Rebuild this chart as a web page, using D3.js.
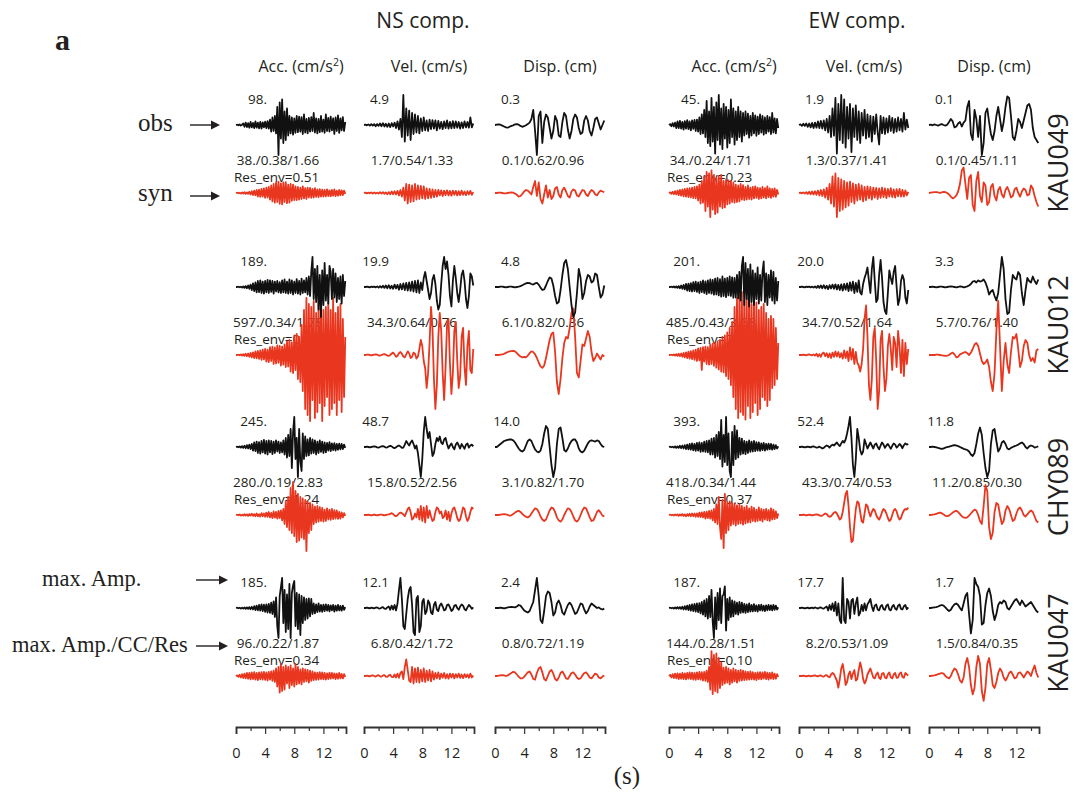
<!DOCTYPE html>
<html><head><meta charset="utf-8">
<script src="https://cdn.jsdelivr.net/npm/d3@7"></script>
<style>
body{margin:0;background:#fff}
svg{display:block}
text{font-family:"Open Sans",sans-serif;fill:#231f20}
</style>
</head><body>
<svg id="c" width="1081" height="792"></svg>
<script>
// ---------------- metadata ----------------
const stations = ["KAU049","KAU012","CHY089","KAU047"];
const componentTitles = ["NS comp.","EW comp."];
const quantityHeaders = ["Acc. (cm/s","Vel. (cm/s)","Disp. (cm)"];
const timeTicks = [0,2,4,6,8,10,12,14];
// columns: NS acc, NS vel, NS disp, EW acc, EW vel, EW disp
const obsMaxAmp = [[98,4.9,0.3,45,1.9,0.1],[189,19.9,4.8,201,20.0,3.3],[245,48.7,14.0,393,52.4,11.8],[185,12.1,2.4,187,17.7,1.7]];
const synMaxAmp = [[38,1.7,0.1,34,1.3,0.1],[597,34.3,6.1,485,34.7,5.7],[280,15.8,3.1,418,43.3,11.2],[96,6.8,0.8,144,8.2,1.5]];
const synCC = [[0.38,0.54,0.62,0.24,0.37,0.45],[0.34,0.64,0.82,0.43,0.52,0.76],[0.19,0.52,0.82,0.34,0.74,0.85],[0.22,0.42,0.72,0.28,0.53,0.84]];
const synRes = [[1.66,1.33,0.96,1.71,1.41,1.11],[1.78,0.76,0.36,3.68,1.64,1.40],[2.83,2.56,1.70,1.44,0.53,0.30],[1.87,1.72,1.19,1.51,1.09,0.35]];
const resEnv = [[0.51,0.23],[0.72,2.04],[1.24,0.37],[0.34,0.10]];

// ---------------- waveforms (normalised, 100 = obs peak), sampled uniformly over 0-15 s ----------------
const KAU049_NS_acc_obs = [0,1,-1,2,-2,1,5,-6,8,-7,6,-9,10,-8,7,-10,12,-9,8,-11,10,-12,9,-8,11,-10,13,-12,18,-22,25,-20,30,-28,60,-100,75,-45,85,-60,45,-50,55,-35,30,-28,25,-32,22,-26,30,-24,28,-22,26,-30,35,-25,20,-28,24,-22,26,-20,40,-25,22,-28,20,-24,30,-22,18,-26,35,-20,24,-22,28,-18,22,-30,25,-20,32,-26,22,-18,26,-20,10];
const KAU049_NS_acc_syn = [0,1,-1,1,-2,2,-2,3,-3,2,-3,4,-5,6,-7,8,-8,10,-12,11,-13,14,-12,15,-16,18,-15,20,-22,25,-28,30,-32,35,-30,38,-36,32,-38,35,-30,36,-34,28,-32,30,-26,28,-24,22,-24,20,-22,18,-20,22,-18,16,-20,18,-15,17,-16,14,-15,16,-13,12,-14,13,-12,11,-12,10,-11,12,-10,9,-11,10,-9,12,-10,8,-9,10,-8,9,-7,8,-3];
const KAU049_NS_vel_obs = [0,1,-1,2,-2,3,-2,3,-4,3,-3,5,-4,6,-5,4,-6,5,-7,6,-5,8,-10,12,-15,20,-40,100,-55,55,-35,48,-50,40,-30,35,-25,30,-28,22,-20,25,-18,15,-20,18,-14,16,-12,15,-18,14,-12,10,-14,12,-10,15,-12,10,-11,13,-10,12,-9,10,-12,9,-10,12,-8,10,-9,25,-8,5];
const KAU049_NS_vel_syn = [0,1,-1,1,-1,2,-2,2,-2,1,-2,3,-2,3,-3,2,-4,3,-4,5,-4,6,-5,7,-8,10,-12,18,-25,30,-35,28,-30,25,-28,30,-22,25,-20,24,-18,22,-20,15,-18,14,-16,12,-14,10,-12,10,-8,9,-10,8,-7,9,-8,7,-9,8,-6,7,-8,6,-7,8,-6,5,-7,6,-5,7,-6,3];
const KAU049_NS_disp_obs = [0,1,2,1,-2,-5,-8,-9,-6,-3,-1,2,3,1,-3,-6,-4,-1,3,8,20,50,-20,-100,30,45,-60,10,35,25,-10,-45,-20,30,15,-35,-40,10,40,30,-15,-45,-20,20,35,25,-10,-30,-25,15,30,15,-20,-35,-10,20,25,5,-15,0,15];
const KAU049_NS_disp_syn = [0,0,1,1,0,-1,-1,0,1,2,1,-2,-6,-12,-10,-3,5,10,8,2,-5,20,40,-10,35,-20,-35,-5,25,-15,10,-20,-10,15,20,-5,-15,10,18,5,-10,-15,5,12,8,-8,-12,0,10,8,-5,-10,2,10,6,-4,-8,2,8,5,3];
const KAU049_EW_acc_obs = [0,3,-4,6,-5,8,-10,12,-10,14,-12,10,-15,13,-12,16,-14,12,-18,15,-13,17,-20,18,-22,25,-30,35,-28,50,-40,80,-60,45,-70,90,-55,60,-95,75,-50,100,-65,55,-80,70,-45,60,-75,50,-60,85,-40,55,-65,45,-50,60,-40,45,-55,40,-35,45,-30,38,-42,30,-35,40,-28,32,-36,28,-30,35,-25,30,-32,25,-28,30,-22,26,-30,40,-25,22,-28,20,-10];
const KAU049_EW_acc_syn = [0,2,-3,4,-4,6,-5,8,-7,10,-9,12,-11,14,-12,15,-14,16,-15,18,-17,20,-18,22,-25,28,-35,40,-32,55,-60,70,-45,65,-80,75,-55,60,-70,50,-65,55,-45,60,-50,40,-48,45,-38,42,-35,40,-30,35,-32,28,-30,25,-28,30,-22,26,-24,20,-22,25,-20,18,-22,20,-18,22,-16,18,-20,16,-18,20,-15,16,-18,22,-14,15,-16,14,-12,15,-13,10,-5];
const KAU049_EW_vel_obs = [0,2,-3,4,-3,5,-6,5,-8,7,-10,8,-9,12,-10,14,-12,15,-18,20,-25,30,-40,55,-35,90,-95,70,-50,100,-60,85,-75,60,-45,70,-90,55,-40,65,-50,45,-60,40,-35,50,-45,35,-40,30,-55,28,-30,35,-25,-65,30,-28,25,-30,22,-25,30,-20,24,-26,20,-22,25,-18,20,-22,40,-15,18,-10];
const KAU049_EW_vel_syn = [0,1,-1,2,-2,3,-3,4,-4,5,-5,6,-6,8,-8,10,-10,12,-15,18,-22,30,-35,55,-45,65,-80,50,-60,45,-55,40,-48,35,-42,38,-30,32,-35,28,-25,30,-22,25,-28,20,-24,22,-18,20,-22,18,-15,17,-20,15,-16,18,-14,15,-17,14,-12,16,-14,12,-15,13,-11,14,-12,10,-12,9,-8,4];
const KAU049_EW_disp_obs = [0,1,-1,2,0,-2,1,3,0,-2,1,10,20,12,-8,-5,5,10,-5,8,15,60,80,-30,-50,50,20,-40,30,-100,-60,40,55,10,-30,-50,-20,30,60,20,-20,10,60,95,90,30,-40,-50,-20,20,10,-10,15,40,65,70,50,-10,-40,-50,-60];
const KAU049_EW_disp_syn = [0,1,2,3,3,2,0,2,4,3,0,-5,-12,-18,-15,-8,5,30,75,85,30,-20,50,60,-40,-60,40,70,-10,-30,35,25,-40,-30,20,30,-10,-25,10,20,-5,-15,10,20,5,-15,-10,12,18,0,-12,5,15,10,-8,-5,25,15,-10,-30,-45];

const KAU012_NS_acc_obs = [0,0,1,-1,1,-2,2,-3,3,-4,5,-6,8,-10,12,-14,15,-18,20,-17,22,-20,18,-22,20,-18,24,-20,22,-16,20,-22,18,-15,20,-18,16,-20,22,-18,25,-20,18,-22,25,-20,22,-25,18,-20,26,-22,20,-25,28,-20,22,-18,30,-25,35,-30,50,100,-40,60,-50,70,-75,40,-100,55,-60,80,-45,40,-55,70,50,-40,60,-35,45,-50,30,-40,35,-55,40,-30,20];
const KAU012_NS_acc_syn = [0,0,1,-1,2,-2,3,-3,4,-4,5,-6,7,-8,9,-10,12,-11,14,-13,15,-16,18,-15,20,-22,18,-24,26,-20,28,-30,25,-28,32,-26,30,-35,28,-32,35,-40,45,-38,50,-55,42,-60,65,-50,70,-80,60,-90,100,-120,150,-180,190,-200,170,-220,160,-150,180,-210,140,-190,170,-160,185,-220,150,-170,160,-140,175,-200,150,-180,190,-160,140,-200,160,-150,170,-190,120,-140,60];
const KAU012_NS_vel_obs = [0,0,1,0,-1,1,0,1,-1,2,-2,3,-2,4,-3,5,-4,6,-5,4,-6,8,-5,7,-9,10,-8,12,-10,14,-12,15,-13,18,-15,20,-18,22,-20,15,-10,30,50,20,-10,-40,-20,25,40,10,-45,-75,-60,10,70,100,60,85,40,-30,-65,20,70,30,-20,-50,-10,40,55,20,-40,-70,-30,45,35,5];
const KAU012_NS_vel_syn = [0,0,1,1,0,-1,0,1,2,1,-1,-2,0,2,3,1,-2,-3,0,5,8,2,-6,-3,6,10,4,-5,-8,2,12,6,-10,-6,8,4,-12,-5,20,50,30,-20,-45,-110,-60,40,160,90,-80,-180,-100,60,140,80,-60,-150,-40,100,120,-30,-130,-60,80,110,-20,-110,-70,60,90,-40,-100,30,80,-50,-60,20];
const KAU012_NS_disp_obs = [0,0,0,1,1,0,-1,0,1,1,0,-1,0,1,3,6,9,12,14,13,10,8,12,14,8,-2,-10,-8,5,20,32,28,5,-30,-55,-50,-10,40,80,90,60,0,-60,-100,-85,-20,60,30,-40,-20,20,40,35,15,20,45,40,0,-35,-25,5];
const KAU012_NS_disp_syn = [0,0,0,1,2,4,7,10,12,13,14,12,6,0,-5,-8,-6,-8,-2,6,12,10,2,-10,-25,-38,-43,-35,-10,20,50,70,75,10,-90,-130,-80,-10,40,60,55,90,140,155,60,-60,-75,-20,35,30,55,80,60,10,-20,-10,5,-5,-15,0,-5];
const KAU012_EW_acc_obs = [0,0,1,-1,2,-2,2,-3,3,-4,5,-6,7,-8,10,-12,11,-14,13,-15,16,-14,18,-16,15,-20,18,-17,22,-20,19,-24,22,-20,25,-22,24,-26,28,-25,30,-28,26,-32,35,-30,28,-34,30,-28,35,-30,32,-36,30,-35,40,-38,50,-45,70,100,-60,80,-40,60,-65,75,-50,55,-60,45,-40,65,-55,40,-45,50,85,-50,45,-60,40,-35,55,-45,50,-55,30,-45,20];
const KAU012_EW_acc_syn = [0,0,1,-1,2,-2,3,-3,4,-4,5,-6,7,-8,9,-10,11,-12,13,-14,15,-16,18,-20,22,-18,24,-50,26,-22,28,-30,26,-32,35,-30,38,-36,40,-42,45,-48,50,-55,60,-58,65,-70,75,-80,90,-100,110,-140,160,-180,190,-210,200,-190,210,-200,180,-215,190,-170,200,-210,170,-190,180,-160,175,-200,150,-180,160,-140,170,-150,140,-170,120,-150,130,-110,120,-100,90,-80,40];
const KAU012_EW_vel_obs = [0,0,1,0,-1,1,0,1,-1,1,-2,2,-3,4,-3,5,-4,6,-5,4,-7,6,-5,8,-6,9,-8,7,-10,9,-12,10,-9,12,-14,15,-12,18,-20,14,-16,22,-18,-25,10,30,45,65,20,-20,60,100,20,-50,-40,40,90,30,-50,-80,-90,-20,55,30,10,50,70,0,-60,-40,20,40,25,-35,-55,-10];
const KAU012_EW_vel_syn = [0,0,0,1,0,-1,1,2,0,-1,2,-2,4,-5,3,-6,5,8,-4,6,-8,5,-10,8,-6,12,-5,10,-8,6,-12,15,-10,12,-20,25,-15,20,-30,10,-25,-35,-55,-30,20,120,165,60,-100,-150,-80,60,90,-20,-180,-120,50,80,-40,-120,-80,30,70,20,-50,60,40,-40,80,30,-60,50,-70,40,-30,20];
const KAU012_EW_disp_obs = [0,0,1,0,-1,0,1,1,0,-1,0,1,2,1,0,-1,0,2,1,-1,0,2,5,10,18,20,15,22,18,20,25,15,-2,-25,-15,-10,-30,-45,-20,40,100,60,-40,-90,-85,-10,40,30,25,50,40,-20,-60,-10,30,20,15,35,20,10,25];
const KAU012_EW_disp_syn = [0,0,0,0,1,1,0,-1,-2,-3,-2,0,5,8,2,-8,-6,2,5,8,10,6,0,8,20,35,40,30,5,-20,-30,-25,-15,-40,-90,-120,-60,80,180,30,-120,-20,40,-30,-60,10,60,55,70,20,-40,-20,30,50,40,0,-20,-10,-25,15,20];

const CHY089_NS_acc_obs = [0,1,-1,2,-2,3,-3,4,-4,6,-5,8,-7,10,-12,15,-14,18,-20,16,-22,20,-18,24,-22,20,-25,22,-18,20,-24,18,-20,22,-15,18,-20,15,-18,22,-25,30,-35,40,-30,60,-70,50,100,-40,30,-100,60,-50,-80,45,-40,35,-30,25,-28,30,-22,25,-20,22,-25,18,-20,22,-16,18,-20,15,-18,14,-12,16,-14,12,-10,13,-12,10,-9,11,-8,10,-7,8,-3];
const CHY089_NS_acc_syn = [0,1,-1,2,-2,1,-2,3,-2,2,-3,3,-2,4,-3,3,-4,5,-4,3,-5,6,-4,5,-6,8,-6,10,-8,7,-10,12,-9,10,-12,14,-10,15,-18,20,-30,45,-40,60,-50,90,-60,110,-70,80,-90,70,-85,60,-75,55,-80,50,-120,45,-60,40,-50,35,-30,28,-25,30,-22,26,-20,24,-22,18,-20,22,-15,18,-16,20,-14,16,-12,15,-13,10,-12,9,-8,6,-3];
const CHY089_NS_vel_obs = [0,0,1,0,-1,0,1,2,1,-1,-2,0,2,3,1,-2,-1,2,4,2,-2,-4,-1,3,5,2,-3,-2,8,20,12,5,15,22,10,-5,5,-20,-60,-100,-40,50,100,60,30,50,10,-30,-20,10,30,20,35,15,10,25,30,10,-5,5,12,0,-8,8,15,5,-5,10,2,-6,8,12,-2,5,8,2];
const CHY089_NS_vel_syn = [0,0,0,1,0,-1,0,1,0,-1,0,1,1,0,-1,0,1,2,4,6,3,-2,-4,-1,5,8,6,2,-4,8,20,25,10,-15,-10,5,-8,20,-15,30,-20,25,-25,30,-10,15,-5,-20,-15,10,25,20,5,12,-10,-5,15,-15,10,-20,5,20,25,10,-10,-20,-15,5,25,20,-5,-20,-10,10,25,20];
const CHY089_NS_disp_obs = [0,0,5,10,15,20,22,24,25,25,22,15,5,-5,-12,-15,-10,5,20,25,20,5,-8,-15,-18,-12,10,45,70,60,0,-60,-100,-70,10,60,65,30,-10,-15,-5,10,20,25,25,15,-5,-15,-18,-12,0,12,20,22,20,18,22,20,10,2,0];
const CHY089_NS_disp_syn = [0,0,0,1,2,3,2,0,-2,-1,3,8,12,14,10,4,-2,-6,-8,-4,5,14,22,20,10,-5,-15,-20,-15,0,15,25,22,10,-8,-18,-22,-15,0,12,22,20,10,-5,-18,-22,-15,0,15,25,22,8,-8,-20,-18,-5,10,16,8,-2,-5];
const CHY089_EW_acc_obs = [0,1,-1,1,-2,2,-3,2,-3,4,-4,5,-5,6,-7,8,-8,10,-9,12,-11,10,-13,14,-12,15,-16,14,-15,18,-16,20,-18,22,-25,28,-25,30,-35,40,-30,50,-40,90,-65,40,-50,100,-60,45,-80,-100,50,-60,70,-40,55,-35,30,-25,28,-22,20,-24,18,-20,22,-16,18,-15,20,-14,16,-12,15,-13,12,-10,14,-12,10,-9,11,-8,10,-9,8,-7,6,-5,2];
const CHY089_EW_acc_syn = [0,1,-1,1,-2,2,-1,2,-3,2,-2,3,-3,2,-4,3,-3,4,-4,5,-4,5,-6,5,-6,8,-7,9,-8,10,-12,11,-10,14,-12,15,-18,20,-25,35,-30,60,-40,-80,50,-110,70,-60,40,-50,45,-35,40,-30,38,-35,32,-30,35,-28,30,-32,25,-28,30,-25,22,-25,28,-20,24,-22,18,-20,25,-18,20,-22,18,-15,20,-18,16,-20,22,-15,18,-14,12,-10,5];
const CHY089_EW_vel_obs = [0,0,1,0,-1,0,1,0,-1,1,2,0,-2,-1,1,-2,-5,-3,2,5,3,-2,4,8,5,10,15,8,3,12,20,15,25,45,70,100,30,-60,-100,-40,60,30,-10,-25,-15,25,10,-5,5,15,5,-5,8,12,0,-8,5,15,8,-3,5,10,2,-6,4,12,8,-2,3,10,5,-4,6,12,8,10];
const CHY089_EW_vel_syn = [0,0,0,1,0,-1,0,1,0,-1,0,1,2,1,-1,-3,-2,2,5,3,-3,-6,-4,2,8,10,5,-5,-15,-10,10,40,70,80,30,-40,-90,-85,-30,20,45,40,10,-20,-25,5,35,30,10,-5,10,20,15,0,-10,-15,-5,10,20,15,5,-10,-20,-15,0,15,20,12,-5,-15,-10,5,15,20,18,25];
const CHY089_EW_disp_obs = [0,0,1,0,-1,-3,-5,-6,-5,-2,0,1,3,5,6,5,3,0,-3,-6,-8,-10,-15,-25,-30,-20,10,45,65,40,-20,-70,-100,-80,10,55,60,20,-15,-5,15,20,10,-5,-8,-3,0,3,5,8,12,15,10,0,-5,2,5,3,-2,0,2];
const CHY089_EW_disp_syn = [0,0,1,2,4,6,8,6,2,-3,-4,-2,3,8,12,14,10,3,-4,-8,-10,-8,-2,5,12,18,15,0,-20,-30,30,100,80,-40,-80,-60,10,40,35,0,-30,-20,15,30,20,0,-20,-15,5,20,25,15,0,-5,2,10,15,10,-5,-20,-25];

const KAU047_NS_acc_obs = [0,1,-1,1,-2,1,-2,2,-3,2,-3,3,-4,4,-5,6,-7,8,-8,10,-9,12,-10,11,-13,12,-15,14,-16,18,-20,22,-30,35,-60,-100,40,70,100,-50,60,-80,45,-70,80,-100,50,75,90,-60,50,-70,45,-90,40,-50,35,-40,30,-35,32,-28,30,-20,15,-18,12,-14,15,-12,10,-13,11,-10,12,-9,10,-11,9,-8,10,-12,8,-9,10,-8,7,-9,8,-6,3];
const KAU047_NS_acc_syn = [0,2,-3,4,-5,6,-7,8,-8,10,-9,10,-11,12,-10,13,-12,10,-14,12,-11,13,-12,14,-13,12,-15,14,-12,15,-16,18,-20,25,-35,30,-55,40,-50,30,-45,35,-25,30,-40,35,-30,25,-35,40,-28,30,-25,22,-28,25,-20,22,-18,20,-22,18,-16,15,-14,12,-13,11,-12,13,-10,12,-11,10,-12,9,-10,11,-9,10,-8,9,-10,8,-9,10,-8,7,-8,6,-3];
const KAU047_NS_vel_obs = [0,0,1,0,-1,1,0,-1,1,2,-1,-2,1,3,-2,-3,2,5,-6,8,-5,10,-8,15,60,100,30,-60,-70,-20,30,60,70,10,-80,-90,30,40,-80,-60,20,30,-20,-10,25,15,-15,-20,10,20,-5,-10,8,15,5,-8,-5,10,12,2,-10,-5,8,10,0,-6,5,12,8,-4,-8,2,10,5,-3,2];
const KAU047_NS_vel_syn = [0,0,1,0,-1,1,2,0,-2,1,3,-1,-2,2,3,-2,-3,2,4,-3,-4,5,-5,8,-6,10,15,-10,30,55,20,-15,-20,30,-25,25,-20,28,-22,20,-18,25,-20,18,-15,20,-18,15,-12,10,-8,12,-10,8,-6,10,-8,6,-9,8,-5,7,-8,6,-5,8,-6,5,-7,6,-4,5,-6,8,-5,2];
const KAU047_NS_disp_obs = [0,0,0,1,0,-1,0,2,3,4,3,2,5,10,8,0,-8,-12,-15,-10,5,20,60,100,40,-40,-50,-10,40,55,50,20,-25,-15,15,25,10,-15,-22,-5,10,18,10,-5,-20,-15,0,15,12,-5,-18,-10,5,15,10,5,0,2,-3,-5,-2];
const KAU047_NS_disp_syn = [0,0,1,2,3,2,0,2,6,10,14,12,5,-2,-8,-8,-3,5,12,15,5,-10,-12,10,25,30,12,-10,-15,0,15,20,8,-10,-15,-5,10,15,5,-8,-10,0,10,12,5,-5,-10,-8,2,10,12,5,-5,-8,0,8,5,-5,-8,-2,2];
const KAU047_EW_acc_obs = [0,1,-1,1,-2,2,-2,3,-2,3,-3,4,-5,6,-5,8,-7,10,-9,12,-10,14,-12,15,-14,16,-18,20,-22,25,-28,30,-35,40,-30,60,-45,-100,35,-70,50,-40,65,-50,40,45,72,-75,30,-40,35,-30,25,-28,22,-20,18,-22,20,-16,18,-15,14,-16,12,-14,15,-12,10,-11,13,-10,9,-12,10,-8,11,-9,8,-10,9,-8,10,-7,9,-8,10,-6,8,-5,2];
const KAU047_EW_acc_syn = [0,4,-5,6,-7,8,-8,9,-10,8,-9,10,-10,9,-11,10,-9,12,-10,11,-12,10,-13,12,-11,14,-12,13,-15,14,-16,18,-20,30,-45,83,-60,70,-50,75,-55,60,-40,45,-30,28,-25,30,-22,25,-28,20,-22,25,-18,20,-22,18,-16,20,-15,18,-14,15,-13,14,-12,15,-11,13,-12,10,-14,12,-10,13,-11,12,-9,14,-10,11,-12,10,-9,12,-10,8,-9,6,-3];
const KAU047_EW_vel_obs = [0,0,1,0,-1,0,1,-1,0,1,-1,2,0,-2,1,2,-1,-2,2,5,-8,10,-6,15,-10,20,-25,15,-40,-50,100,-40,-50,30,20,-35,25,30,-20,15,35,-25,-15,10,-10,15,-8,12,20,30,5,-10,8,12,-5,-8,6,10,-4,-6,8,12,-5,-8,5,10,-2,-6,8,12,-3,-5,6,10,-4,2];
const KAU047_EW_vel_syn = [0,0,0,1,0,-1,0,1,-1,0,1,2,0,-1,1,2,-1,-2,2,3,-2,-4,5,10,6,-5,-15,-39,-10,25,40,10,-30,-20,5,15,-10,8,20,-15,-10,20,45,25,-10,-25,-15,5,15,25,10,-5,-8,5,12,-6,-10,8,10,-5,-8,6,12,-4,-8,5,10,-6,-5,8,12,-3,-6,10,5,2];
const KAU047_EW_disp_obs = [0,0,1,2,3,5,8,10,8,2,-5,-10,-6,5,12,15,10,0,-8,15,40,50,-20,-85,-40,100,80,70,40,-55,-50,10,50,65,40,-10,-40,-20,10,20,15,25,20,0,-5,5,15,25,30,20,10,25,15,5,10,15,20,10,0,-10,-15];
const KAU047_EW_disp_syn = [0,0,1,2,4,6,8,10,8,0,-5,-8,0,15,25,20,5,-15,-22,-5,40,60,30,-30,-61,-40,30,67,40,-50,-83,-40,40,60,20,-30,-40,-20,10,25,15,-5,-15,-5,10,15,5,-8,-5,10,12,5,-5,5,15,10,0,20,35,10,-5];

// table built from the arrays: [station][column] -> [obs, syn]
const traceGrid = [
  [[KAU049_NS_acc_obs,KAU049_NS_acc_syn],[KAU049_NS_vel_obs,KAU049_NS_vel_syn],[KAU049_NS_disp_obs,KAU049_NS_disp_syn],[KAU049_EW_acc_obs,KAU049_EW_acc_syn],[KAU049_EW_vel_obs,KAU049_EW_vel_syn],[KAU049_EW_disp_obs,KAU049_EW_disp_syn]],
  [[KAU012_NS_acc_obs,KAU012_NS_acc_syn],[KAU012_NS_vel_obs,KAU012_NS_vel_syn],[KAU012_NS_disp_obs,KAU012_NS_disp_syn],[KAU012_EW_acc_obs,KAU012_EW_acc_syn],[KAU012_EW_vel_obs,KAU012_EW_vel_syn],[KAU012_EW_disp_obs,KAU012_EW_disp_syn]],
  [[CHY089_NS_acc_obs,CHY089_NS_acc_syn],[CHY089_NS_vel_obs,CHY089_NS_vel_syn],[CHY089_NS_disp_obs,CHY089_NS_disp_syn],[CHY089_EW_acc_obs,CHY089_EW_acc_syn],[CHY089_EW_vel_obs,CHY089_EW_vel_syn],[CHY089_EW_disp_obs,CHY089_EW_disp_syn]],
  [[KAU047_NS_acc_obs,KAU047_NS_acc_syn],[KAU047_NS_vel_obs,KAU047_NS_vel_syn],[KAU047_NS_disp_obs,KAU047_NS_disp_syn],[KAU047_EW_acc_obs,KAU047_EW_acc_syn],[KAU047_EW_vel_obs,KAU047_EW_vel_syn],[KAU047_EW_disp_obs,KAU047_EW_disp_syn]]
];

// ---------------- layout ----------------
const L = {
  colX:[236,364,495,669,799,929], trW:110, tMax:15.1, trDur:15,
  rowY:[125,287,447,608], synDy:68, ampPx:30, axisY:727,
  stationY:[163,325,487,643], stationX:1068,
  obsColor:"#111111", synColor:"#e8361f"
};
const svg = d3.select("#c");
const serif = '"Liberation Serif","Times New Roman",serif';

// panel label
svg.append("text").attr("x",55).attr("y",50).style("font-family",serif).style("font-weight","bold").style("font-size","30px").text("a");

// component titles
[[423,0],[857,1]].forEach(([x,i])=>{
  svg.append("text").attr("x",x).attr("y",28).attr("text-anchor","middle").style("font-size","21px").text(componentTitles[i]);
});

// column headers
L.colX.forEach((cx,c)=>{
  const q = c%3;
  const t = svg.append("text").attr("x",cx+65).attr("y",72).attr("text-anchor","middle").style("font-size","16px");
  if(q===0){
    t.append("tspan").text(quantityHeaders[0]);
    t.append("tspan").attr("dy",-6).style("font-size","10.5px").text("2");
    t.append("tspan").attr("dy",6).text(")");
  } else t.text(quantityHeaders[q]);
});

// left annotations
function arrow(x1,x2,y){
  svg.append("line").attr("x1",x1).attr("x2",x2-6).attr("y1",y).attr("y2",y).attr("stroke","#231f20").attr("stroke-width",1.4);
  svg.append("path").attr("d",`M${x2-9},${y-4.5}L${x2},${y}L${x2-9},${y+4.5}Z`).attr("fill","#231f20");
}
svg.append("text").attr("x",138).attr("y",131).style("font-family",serif).style("font-size","25px").text("obs");
arrow(190,220,125);
svg.append("text").attr("x",138).attr("y",201).style("font-family",serif).style("font-size","25px").text("syn");
arrow(190,220,196);
svg.append("text").attr("x",42).attr("y",586).style("font-family",serif).style("font-size","22.5px").text("max. Amp.");
arrow(196,228,580);
svg.append("text").attr("x",12).attr("y",652).style("font-family",serif).style("font-size","22.5px").text("max. Amp./CC/Res");
arrow(196,228,646);

// station labels
stations.forEach((s,r)=>{
  svg.append("text").attr("transform",`translate(${L.stationX},${L.stationY[r]}) rotate(-90)`)
    .attr("text-anchor","middle").style("font-size","27px").text(s);
});

// value labels
const fmtAcc = v => d3.format("d")(v)+".";
const fmt1 = d3.format(".1f"), fmt2 = d3.format(".2f");
const maxOff = [31,25,25], statOff = [42,48,48];
stations.forEach((s,r)=>{
  const b = L.rowY[r];
  L.colX.forEach((cx,c)=>{
    const q = c%3;
    const f = q===0 ? fmtAcc : fmt1;
    svg.append("text").attr("x",cx+maxOff[q]).attr("y",b-21).attr("text-anchor","end").style("font-size","13.5px").text(f(obsMaxAmp[r][c]));
    svg.append("text").attr("x",cx+statOff[q]).attr("y",b+40).attr("text-anchor","middle").style("font-size","13.5px")
      .text(`${f(synMaxAmp[r][c])}/${fmt2(synCC[r][c])}/${fmt2(synRes[r][c])}`);
    if(q===0){
      svg.append("text").attr("x",cx-2).attr("y",b+57).style("font-size","13.5px").text("Res_env="+fmt2(resEnv[r][Math.floor(c/3)]));
    }
  });
});

// traces (syn first, then obs on top)
const gSyn = svg.append("g"), gObs = svg.append("g");
stations.forEach((s,r)=>{
  L.colX.forEach((cx,c)=>{
    const x = d3.scaleLinear().domain([0,L.tMax]).range([cx,cx+L.trW]);
    const [obs,syn] = traceGrid[r][c];
    const yO = d3.scaleLinear().domain([-100,100]).range([L.rowY[r]+L.ampPx,L.rowY[r]-L.ampPx]);
    const yS = d3.scaleLinear().domain([-100,100]).range([L.rowY[r]+L.synDy+L.ampPx,L.rowY[r]+L.synDy-L.ampPx]);
    const mk = (arr,y)=> d3.line().x((d,i)=>x(i*L.trDur/(arr.length-1))).y(d=>y(d))(arr);
    gSyn.append("path").attr("d",mk(syn,yS)).attr("fill","none").attr("stroke",L.synColor).attr("stroke-width",1.8).attr("stroke-linejoin","round");
    gObs.append("path").attr("d",mk(obs,yO)).attr("fill","none").attr("stroke",L.obsColor).attr("stroke-width",1.8).attr("stroke-linejoin","round");
  });
});

// time axes
L.colX.forEach(cx=>{
  const x = d3.scaleLinear().domain([0,L.tMax]).range([cx,cx+L.trW]);
  const g = svg.append("g").attr("transform",`translate(0,${L.axisY})`)
    .call(d3.axisBottom(x).tickValues(timeTicks).tickSizeOuter(0).tickSize(7).tickFormat(d=>d%4===0?d:""));
  g.select(".domain").attr("stroke","#333").attr("stroke-width",1.8);
  g.selectAll(".tick line").attr("stroke","#333").attr("stroke-width",1.2).attr("y2",d=>d%4===0?7:4);
  g.selectAll(".tick text").attr("y",21).attr("fill","#231f20").style("font-family",'"Open Sans",sans-serif').style("font-size","14.5px");
});
svg.append("text").attr("x",627).attr("y",784).attr("text-anchor","middle").style("font-family",serif).style("font-size","25px").text("(s)");
</script>
</body></html>
